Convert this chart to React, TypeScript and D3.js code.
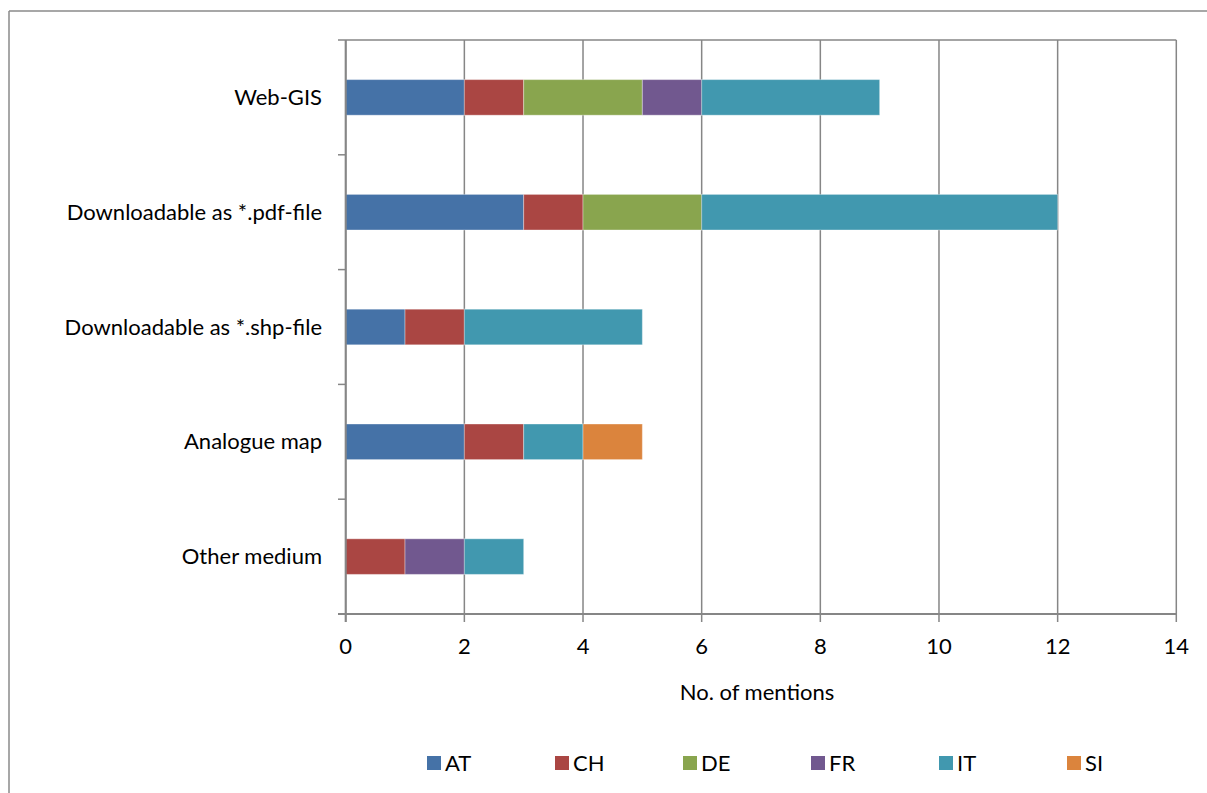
import React from "react";
import * as d3 from "d3";

const categories = [
  "Web-GIS",
  "Downloadable as *.pdf-file",
  "Downloadable as *.shp-file",
  "Analogue map",
  "Other medium",
];
const seriesNames = ["AT", "CH", "DE", "FR", "IT", "SI"];
const AT = [2, 3, 1, 2, 0];
const CH = [1, 1, 1, 1, 1];
const DE = [2, 2, 0, 0, 0];
const FR = [1, 0, 0, 0, 1];
const IT = [3, 6, 3, 1, 1];
const SI = [0, 0, 0, 1, 0];
const xTicks = [0, 2, 4, 6, 8, 10, 12, 14];
const colors = ["#4572A7", "#AA4643", "#89A54E", "#71588F", "#4198AF", "#DB843D"];

const W = 1207;
const H = 793;
const FONT = "Lato, 'Open Sans', sans-serif";
const FS = 22;

export default function App() {
  const values = [AT, CH, DE, FR, IT, SI];
  const rows = categories.map((c, i) => {
    const r: Record<string, any> = { category: c };
    seriesNames.forEach((s, k) => (r[s] = values[k][i]));
    return r;
  });
  const stacked = d3.stack().keys(seriesNames)(rows as any);

  const x = d3.scaleLinear().domain([0, 14]).range([345.7, 1176.3]);
  const y = d3.scaleBand().domain(categories).range([40, 614]).paddingInner(0.69).paddingOuter(0.345);
  const band = d3.scaleBand().domain(categories).range([40, 614]);
  const grid = "#868686";

  return (
    <svg width={W} height={H} style={{ position: "absolute", left: 0, top: 0, background: "#fff" }} fontFamily={FONT}>
      {/* chart frame */}
      <line x1={9} y1={11} x2={W} y2={11} stroke="#8a8a8a" strokeWidth={1.5} />
      <line x1={9} y1={11} x2={9} y2={H} stroke="#8a8a8a" strokeWidth={1.5} />

      {/* vertical gridlines */}
      {xTicks.map((t) => (
        <line key={"g" + t} x1={x(t)} x2={x(t)} y1={40} y2={622} stroke={grid} strokeWidth={1.5} />
      ))}
      {/* top plot line */}
      <line x1={338} x2={x(14)} y1={40} y2={40} stroke={grid} strokeWidth={1.5} />
      {/* category tick marks */}
      {categories.map((c) => (
        <line key={"t" + c} x1={338} x2={x(0)} y1={(band(c) as number) + band.bandwidth()} y2={(band(c) as number) + band.bandwidth()} stroke={grid} strokeWidth={1.5} />
      ))}

      {/* bars */}
      {stacked.map((layer, k) =>
        layer.map((d, i) =>
          d[1] - d[0] > 0 ? (
            <rect
              key={seriesNames[k] + i}
              x={x(d[0])}
              width={x(d[1]) - x(d[0])}
              y={y(categories[i])}
              height={y.bandwidth()}
              fill={colors[k]}
              stroke="#ffffff"
              strokeOpacity={0.35}
              strokeWidth={1}
            />
          ) : null
        )
      )}

      {/* axes lines */}
      <line x1={x(0)} x2={x(0)} y1={40} y2={622} stroke={grid} strokeWidth={2} />
      <line x1={338} x2={x(14)} y1={614} y2={614} stroke={grid} strokeWidth={2} />

      {/* x tick labels */}
      {xTicks.map((t) => (
        <text key={"l" + t} x={x(t)} y={654} textAnchor="middle" fontSize={FS} fill="#000">
          {t}
        </text>
      ))}
      <text x={757} y={700} textAnchor="middle" fontSize={FS} fill="#000">
        No. of mentions
      </text>

      {/* category labels */}
      {categories.map((c) => (
        <text key={"c" + c} x={322} y={(y(c) as number) + y.bandwidth() / 2 + 7.5} textAnchor="end" fontSize={FS} fill="#000">
          {c}
        </text>
      ))}

      {/* legend */}
      {seriesNames.map((s, k) => {
        const lx = 427 + k * 128;
        return (
          <g key={"leg" + s}>
            <rect x={lx} y={756} width={14} height={14} fill={colors[k]} />
            <text x={lx + 18} y={771} fontSize={FS} fill="#000">
              {s}
            </text>
          </g>
        );
      })}
    </svg>
  );
}
